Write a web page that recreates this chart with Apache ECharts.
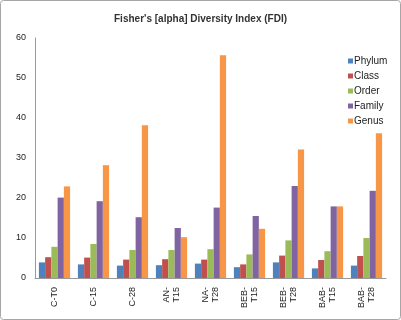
<!DOCTYPE html>
<html>
<head>
<meta charset="utf-8">
<script src="https://cdn.jsdelivr.net/npm/echarts@6/dist/echarts.min.js"></script>
<style>
  html, body { margin: 0; padding: 0; background: #fff; }
  #main { width: 401px; height: 320px; }
</style>
</head>
<body>
<div id="main"></div>
<script>
// 数据
var categories = ['C-T0', 'C-15', 'C-28', 'AN-\nT15', 'NA-\nT28', 'BEB-\nT15', 'BEB-\nT28', 'BAB-\nT15', 'BAB-\nT28'];
var phylum = [3.9, 3.4, 3.1, 3.2, 3.6, 2.7, 3.9, 2.4, 3.1];
var classes = [5.2, 5.1, 4.6, 4.7, 4.6, 3.4, 5.6, 4.5, 5.5];
var order = [7.8, 8.5, 7.0, 7.0, 7.2, 5.9, 9.4, 6.7, 10.0];
var family = [20.1, 19.2, 15.2, 12.5, 17.6, 15.5, 23.0, 17.9, 21.8];
var genus = [22.9, 28.2, 38.2, 10.2, 55.7, 12.3, 32.1, 17.9, 36.2];

var seriesNames = ['Phylum', 'Class', 'Order', 'Family', 'Genus'];
var seriesData = [phylum, classes, order, family, genus];
var colors = ['#4F81BD', '#C0504D', '#9BBB59', '#8064A2', '#F79646'];

var myChart = echarts.init(document.getElementById('main'));

var series = seriesNames.map(function (name, i) {
    return {
        name: name,
        type: 'bar',
        barGap: 0,
        barCategoryGap: '20%',
        itemStyle: { color: colors[i] },
        data: seriesData[i]
    };
});

var option = {
    animation: false,
    textStyle: { fontFamily: 'Liberation Sans Narrow, Liberation Sans, sans-serif' },
    color: colors,
    title: {
        text: "Fisher's [alpha] Diversity Index (FDI)",
        left: 'center',
        top: 9,
        textStyle: { fontSize: 10, fontWeight: 'bold', color: '#333' }
    },
    legend: {
        orient: 'vertical',
        left: 343,
        top: 51,
        icon: 'rect',
        itemWidth: 5,
        itemHeight: 5,
        itemGap: 5,
        textStyle: { fontSize: 10, color: '#222', padding: [0, 0, 0, -4] },
        data: seriesNames
    },
    graphic: [{ // 外边框
        type: 'rect',
        shape: { x: 0.5, y: 0.5, width: 400, height: 319, r: 3 },
        style: { fill: 'none', stroke: '#a6a6a6', lineWidth: 1 },
        silent: true
    }],
    grid: {
        left: 35,
        right: 15,
        top: 38,
        bottom: 42
    },
    xAxis: {
        type: 'category',
        data: categories,
        axisLine: { lineStyle: { color: '#999' } },
        axisTick: { show: false },
        axisLabel: {
            rotate: 90,
            fontSize: 9,
            color: '#222',
            margin: 9,
            lineHeight: 10
        }
    },
    yAxis: {
        type: 'value',
        min: 0,
        max: 60,
        interval: 10,
        axisLine: { show: true, lineStyle: { color: '#999' } },
        axisTick: { show: false },
        splitLine: { show: false },
        axisLabel: { fontSize: 9, color: '#222', margin: 9 }
    },
    series: series
};

myChart.setOption(option);
</script>
</body>
</html>
